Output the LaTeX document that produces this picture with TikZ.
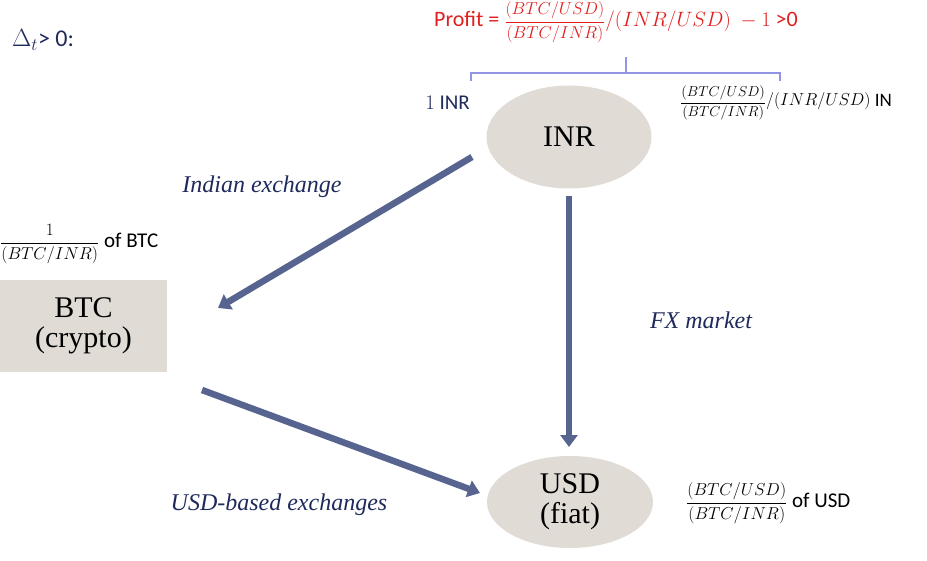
\documentclass[tikz,border=0pt]{standalone}
\usepackage{amsmath}
\usepackage{fontspec}
\setmainfont{Liberation Serif}
\newfontfamily\calibri{Carlito}
\usetikzlibrary{arrows.meta, shapes.geometric}
\definecolor{navy}{HTML}{1F2A5C}
\definecolor{taupe}{HTML}{E0DBD5}
\definecolor{slate}{HTML}{56648F}
\definecolor{bracket}{HTML}{9494E4}
\definecolor{profitred}{HTML}{E0201E}
\newcommand{\ratio}[3][16.5]{{\fontsize{#1}{19}\selectfont$\dfrac{#2}{#3}$}}

\begin{document}
\begin{tikzpicture}[%
x=1pt, y=-1pt,
currency/.style={fill=taupe, draw=none, align=center, font=\fontsize{30}{33}\selectfont, inner sep=0pt},
flow/.style={draw=slate, line width=6.5pt, -{Triangle[width=17pt,length=12pt]}},
lbl/.style={text=navy, font=\fontsize{24}{28}\selectfont\itshape},
amt/.style={font=\calibri\fontsize{21}{25}\selectfont, inner sep=0pt},
]
\useasboundingbox (0,0) rectangle (927,561);
%% header
\node[amt, text=navy, anchor=west, font=\calibri\fontsize{24}{28}\selectfont] (delta) at (12,40) {$\Delta_t$> 0:};
\node[amt, text=profitred, font=\calibri\fontsize{22}{26}\selectfont] (profit) at (616,22)
  {Profit = \ratio{(BTC/USD)}{(BTC/INR)}$/(INR/USD)\ -1$ >0};
%% bracket
\coordinate (brL) at (471,81);
\coordinate (brR) at (780,81);
\coordinate (brM) at (626,57);
\draw[bracket, line width=2pt] (brL) -- (471,73) -- (780,73) -- (brR);
\draw[bracket, line width=2pt] (626,73) -- (brM);
%% currencies
\node[currency, ellipse, minimum width=165pt, minimum height=103pt] (inr) at (569,137) {INR};
\node[currency, rectangle, minimum width=167pt, minimum height=92pt] (btc) at (83.5,326) {BTC\\[-3pt](crypto)};
\node[currency, ellipse, minimum width=166pt, minimum height=92pt] (usd) at (570,502) {USD\\[-3pt](fiat)};
%% amounts
\node[amt, text=navy, anchor=east] (oneinr) at (470,103) {$1$ INR};
\node[amt, anchor=west, font=\calibri\fontsize{19}{23}\selectfont] (inramt) at (680,103) {\ratio[15]{(BTC/USD)}{(BTC/INR)}\raisebox{1pt}{\fontsize{19}{23}\selectfont$/(INR/USD)$} IN};
\node[amt, anchor=west] (btcamt) at (0,244) {\ratio{1}{(BTC/INR)} of BTC};
\node[amt, anchor=west] (usdamt) at (686,503) {\ratio{(BTC/USD)}{(BTC/INR)} of USD};
%% markets
\node[lbl] (indian) at (262,187) {Indian exchange};
\node[lbl] (fx) at (701,320) {FX market};
\node[lbl] (usdex) at (279,505) {USD-based exchanges};
%% flows
\coordinate (f1s) at (472,157);
\coordinate (f1e) at (218,308);
\coordinate (f2s) at (569,196);
\coordinate (f2e) at (569,447);
\coordinate (f3s) at (202,390);
\coordinate (f3e) at (480,493);
\draw[flow] (f1s) -- (f1e);
\draw[flow] (f2s) -- (f2e);
\draw[flow] (f3s) -- (f3e);
\end{tikzpicture}
\end{document}
